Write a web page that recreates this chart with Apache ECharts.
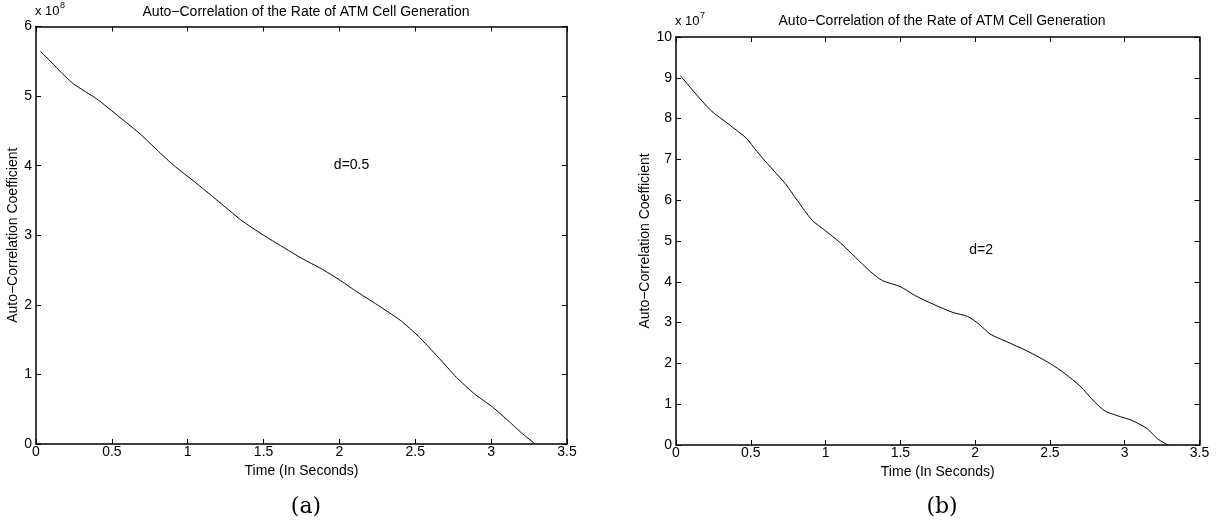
<!DOCTYPE html>
<html>
<head>
<meta charset="utf-8">
<script src="https://cdn.jsdelivr.net/npm/echarts@6/dist/echarts.min.js"></script>
<style>html,body{margin:0;padding:0;background:#fff}#c{width:1217px;height:527px}</style>
</head>
<body>
<div id="c"></div>
<script>
// Panel (a): d=0.5, values in units of 1e8
const timeA = [0.03, 0.10, 0.17, 0.25, 0.40, 0.55, 0.69, 0.80, 0.91, 1.05, 1.19, 1.35, 1.50, 1.62, 1.75, 1.88, 2.00, 2.10, 2.25, 2.40, 2.52, 2.65, 2.77, 2.89, 3.01, 3.12, 3.20, 3.29];
const valueA = [5.64, 5.49, 5.33, 5.17, 4.96, 4.70, 4.45, 4.22, 4.00, 3.76, 3.51, 3.22, 3.00, 2.84, 2.67, 2.52, 2.36, 2.21, 2.00, 1.78, 1.55, 1.25, 0.96, 0.72, 0.53, 0.32, 0.16, 0.00];
// Panel (b): d=2, values in units of 1e7
const timeB = [0.03, 0.12, 0.23, 0.36, 0.47, 0.54, 0.61, 0.73, 0.81, 0.91, 1.00, 1.10, 1.20, 1.30, 1.38, 1.50, 1.60, 1.72, 1.85, 1.95, 2.03, 2.10, 2.20, 2.35, 2.50, 2.60, 2.70, 2.80, 2.87, 2.95, 3.05, 3.15, 3.22, 3.29];
const valueB = [9.05, 8.66, 8.21, 7.84, 7.52, 7.20, 6.90, 6.41, 6.00, 5.51, 5.25, 4.95, 4.60, 4.25, 4.03, 3.88, 3.66, 3.45, 3.25, 3.15, 2.95, 2.72, 2.55, 2.30, 2.00, 1.75, 1.45, 1.05, 0.83, 0.72, 0.60, 0.40, 0.15, 0.00];
const xTicksA = {min: 0, max: 3.5, interval: 0.5};
const yTicksA = {min: 0, max: 6, interval: 1};
const xTicksB = {min: 0, max: 3.5, interval: 0.5};
const yTicksB = {min: 0, max: 10, interval: 1};
const titleText = 'Auto\u2212Correlation of the Rate of ATM Cell Generation';
const yName = 'Auto\u2212Correlation Coefficient';
const xName = 'Time (In Seconds)';
const labelA = 'd=0.5', labelB = 'd=2';
const captionA = '(a)', captionB = '(b)';
const expA = '8', expB = '7';

const FONT = 'Liberation Sans, Arial, sans-serif';
const pair = (xs, ys) => xs.map((x, i) => [x, ys[i]]);

function axisSet(gi, xt, yt) {
  const line = {show: true, onZero: false, lineStyle: {color: '#000', width: 1.5}};
  const tick = {show: true, inside: true, length: 5, lineStyle: {color: '#000', width: 1}};
  return {
    x: [
      {type: 'value', gridIndex: gi, position: 'bottom', min: xt.min, max: xt.max, interval: xt.interval,
       axisLine: line, axisTick: tick, splitLine: {show: false},
       axisLabel: {color: '#000', fontFamily: FONT, fontSize: 14, margin: 1},
       name: xName, nameLocation: 'middle', nameGap: 6,
       nameTextStyle: {color: '#000', fontFamily: FONT, fontSize: 14}},
      {type: 'value', gridIndex: gi, position: 'top', min: xt.min, max: xt.max, interval: xt.interval,
       axisLine: line, axisTick: tick, splitLine: {show: false}, axisLabel: {show: false}}
    ],
    y: [
      {type: 'value', gridIndex: gi, position: 'left', min: yt.min, max: yt.max, interval: yt.interval,
       axisLine: line, axisTick: tick, splitLine: {show: false},
       axisLabel: {color: '#000', fontFamily: FONT, fontSize: 14, margin: 4},
       name: yName, nameLocation: 'middle', nameGap: 9, nameRotate: 90,
       nameTextStyle: {color: '#000', fontFamily: FONT, fontSize: 14}},
      {type: 'value', gridIndex: gi, position: 'right', min: yt.min, max: yt.max, interval: yt.interval,
       axisLine: line, axisTick: tick, splitLine: {show: false}, axisLabel: {show: false}}
    ]
  };
}
const ax0 = axisSet(0, xTicksA, yTicksA);
const ax1 = axisSet(1, xTicksB, yTicksB);

function lineSeries(xi, yi, data, label, pos, sm) {
  return {
    type: 'line', xAxisIndex: xi, yAxisIndex: yi, data: data, showSymbol: false, smooth: sm,
    lineStyle: {color: '#000', width: 1}, animation: false, silent: true,
    markPoint: {symbol: 'circle', symbolSize: 1, silent: true,
      itemStyle: {color: 'rgba(0,0,0,0)'},
      data: [{coord: pos, label: {show: true, position: 'inside', formatter: label, color: '#000', fontFamily: FONT, fontSize: 14}}]}
  };
}

const chart = echarts.init(document.getElementById('c'), null, {renderer: 'canvas'});
chart.setOption({
  backgroundColor: '#fff',
  animation: false,
  grid: [
    {left: 36, top: 26.5, width: 531, height: 417.5},
    {left: 676, top: 37, width: 523.5, height: 408}
  ],
  title: [
    {text: titleText, left: 301, top: 0, textAlign: 'center', textStyle: {fontFamily: FONT, fontSize: 14, fontWeight: 'normal', color: '#000'}},
    {text: titleText, left: 937, top: 9, textAlign: 'center', textStyle: {fontFamily: FONT, fontSize: 14, fontWeight: 'normal', color: '#000'}},
    {text: captionA, left: 301, top: 491, textAlign: 'center', textStyle: {fontFamily: 'DejaVu Serif, Liberation Serif, serif', fontSize: 22, fontWeight: 'normal', color: '#000'}},
    {text: captionB, left: 937, top: 491, textAlign: 'center', textStyle: {fontFamily: 'DejaVu Serif, Liberation Serif, serif', fontSize: 22, fontWeight: 'normal', color: '#000'}}
  ],
  graphic: [
    {type: 'text', left: 35, top: 5, style: {text: 'x 10', font: '13px ' + FONT, fill: '#000'}},
    {type: 'text', left: 60, top: 1, style: {text: expA, font: '9px ' + FONT, fill: '#000'}},
    {type: 'text', left: 675, top: 15, style: {text: 'x 10', font: '13px ' + FONT, fill: '#000'}},
    {type: 'text', left: 700, top: 11, style: {text: expB, font: '9px ' + FONT, fill: '#000'}}
  ],
  xAxis: [...ax0.x, ...ax1.x],
  yAxis: [...ax0.y, ...ax1.y],
  series: [
    lineSeries(0, 0, pair(timeA, valueA), labelA, [2.08, 4.01], 0.15),
    lineSeries(2, 2, pair(timeB, valueB), labelB, [2.04, 4.78], 0.25)
  ]
});
</script>
</body>
</html>
